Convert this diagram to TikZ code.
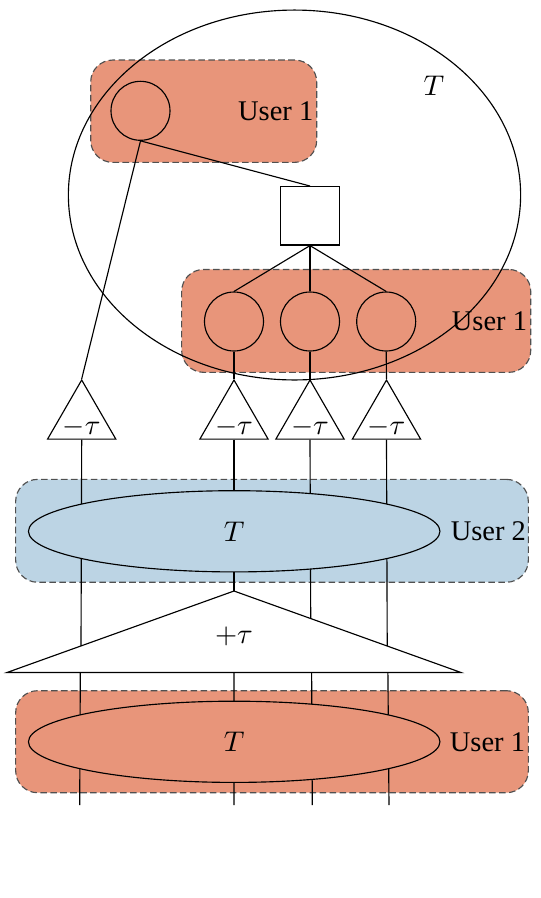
\documentclass[tikz,border=0pt]{standalone}
\usepackage{fontspec}
\setmainfont{Liberation Serif}
\usetikzlibrary{shapes.geometric,calc}
\definecolor{salmon}{HTML}{E8957A}
\definecolor{lblue}{HTML}{BCD4E4}
\definecolor{dashgray}{HTML}{505050}
\pgfdeclarelayer{bg}\pgfdeclarelayer{mid}\pgfdeclarelayer{top}
\pgfsetlayers{bg,mid,main,top}
\begin{document}
\begin{tikzpicture}[x=0.3509pt,y=-0.3509pt,line width=0.4pt,
  userbox/.style={draw=dashgray,dash pattern=on 2.3pt off 1.2pt,rounded corners=7.7pt,inner sep=0pt},
  nodecirc/.style={circle,draw,fill=salmon,inner sep=0pt,minimum size=20.7pt},
  sqnode/.style={rectangle,draw,fill=white,inner sep=0pt,minimum size=20.5pt},
  tri/.style={regular polygon,regular polygon sides=3,draw,fill=white,inner sep=0pt,minimum size=27.65pt},
  tellipse/.style={ellipse,draw,inner sep=0pt,minimum width=144.4pt,minimum height=28.5pt},
  lbl/.style={anchor=base,inner sep=0pt}]
\useasboundingbox (0,0) rectangle (541,898);
% boxes
\begin{pgfonlayer}{bg}
\node[userbox,fill=salmon,minimum width=79.3pt,minimum height=35.9pt] (box1) at (203.7,111.2) {};
\node[userbox,fill=salmon,minimum width=122.5pt,minimum height=36.1pt] (box2) at (356.2,320.9) {};
\node[userbox,fill=lblue,minimum width=179.9pt,minimum height=36.1pt] (box3) at (272,530.8) {};
\node[userbox,fill=salmon,minimum width=179.9pt,minimum height=35.8pt] (box4) at (272,741.7) {};
\end{pgfonlayer}
% labels
\node[lbl] (u1) at (275.7,120) {User 1};
\node[lbl] (u2) at (489.5,330) {User 1};
\node[lbl] (u3) at (488.4,540.7) {User 2};
\node[lbl] (u4) at (487.5,751.7) {User 1};
% circles and square
\node[nodecirc] (c0) at (140.5,110.8) {};
\node[sqnode] (sq) at (310,215.8) {};
\node[nodecirc] (c1) at (234,321.5) {};
\node[nodecirc] (c2) at (310,321.5) {};
\node[nodecirc] (c3) at (386.2,321.5) {};
% small triangles
\node[tri] (t1) at (81.7,419.4) {};
\node[tri] (t2) at (234,419.4) {};
\node[tri] (t3) at (310,419.4) {};
\node[tri] (t4) at (386.5,419.4) {};
\node (m1) at (81.7,427.3) {$-\tau$};
\node (m2) at (234,427.3) {$-\tau$};
\node (m3) at (310,427.3) {$-\tau$};
\node (m4) at (386.5,427.3) {$-\tau$};
% ellipses
\node[tellipse,fill=lblue] (e2) at (234.2,531.3) {$T$};
\node[tellipse,fill=salmon] (e1) at (234.2,741.8) {$T$};
% big +tau triangle
\coordinate (P) at (234,591);
\coordinate (PL) at (7,672.5);
\coordinate (PR) at (461,672.5);
\draw[fill=white] (P) -- (PL) -- (PR) -- cycle;
\node (pt) at (234,636.7) {$+\tau$};
% points on the big triangle
\coordinate (ea) at ($(P)!0.674!(PL)$);
\coordinate (ec) at ($(P)!0.338!(PR)$);
\coordinate (ed) at ($(P)!0.675!(PR)$);
\coordinate (ba) at ($(PL)!0.1615!(PR)$);
\coordinate (bb) at ($(PL)!0.5!(PR)$);
\coordinate (bc) at ($(PL)!0.671!(PR)$);
\coordinate (bd) at ($(PL)!0.839!(PR)$);
\coordinate (za) at (79.7,805);
\coordinate (zb) at (234,805);
\coordinate (zc) at (312.3,805);
\coordinate (zd) at (389,805);
% connectors
\begin{pgfonlayer}{mid}
\draw (c0.south) -- (sq.north);
\draw (c0.south) -- (t1.corner 1);
\draw (sq.south) -- (c1.north);
\draw (sq.south) -- (c2.north);
\draw (sq.south) -- (c3.north);
\draw (c1.south) -- (t2.corner 1);
\draw (c2.south) -- (t3.corner 1);
\draw (c3.south) -- (t4.corner 1);
\draw (t1.south) -- (ea);
\draw (t2.south) -- (P);
\draw (t3.south) -- (ec);
\draw (t4.south) -- (ed);
\draw (ba) -- (za);
\draw (bb) -- (zb);
\draw (bc) -- (zc);
\draw (bd) -- (zd);
\end{pgfonlayer}
% big ellipse
\begin{pgfonlayer}{top}
\node[ellipse,draw,inner sep=0pt,minimum width=158.7pt,minimum height=129.8pt] (bigT) at (294.5,195) {};
\node (Tl) at (434,86) {$T$};
\end{pgfonlayer}
\end{tikzpicture}
\end{document}
